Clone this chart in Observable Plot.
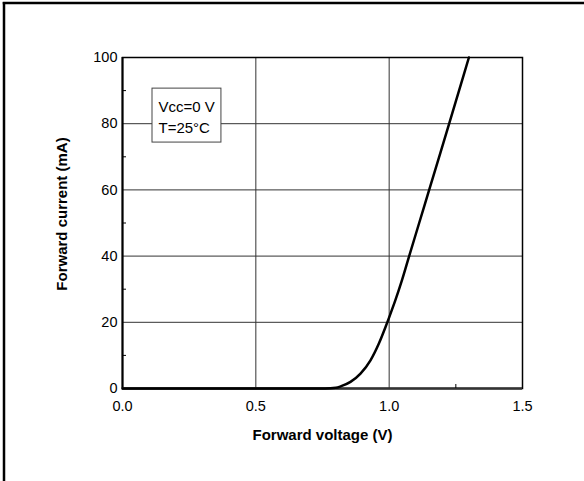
<!DOCTYPE html>
<html>
<head>
<meta charset="utf-8">
<script src="https://cdn.jsdelivr.net/npm/d3@7"></script>
<script src="https://cdn.jsdelivr.net/npm/@observablehq/plot@0.6"></script>
<style>
  html, body { margin: 0; padding: 0; background: #fff; }
  #chart { position: relative; width: 584px; height: 481px; }
</style>
</head>
<body>
<div id="chart"></div>
<script>
// Forward voltage (V) vs forward current (mA)
const voltage = [0, 0.5, 0.76, 0.8, 0.82, 0.855, 0.8925, 0.93, 0.961, 0.986, 1.0, 1.023, 1.046, 1.075, 1.1125, 1.15, 1.1875, 1.225, 1.262, 1.299];
const current = [0, 0, 0, 0.2, 0.7, 2, 4.5, 8.5, 13.5, 18.5, 21.5, 26.6, 32.2, 40, 50, 60, 70, 80, 90, 100];

const xTicks = [0, 0.5, 1.0, 1.5];
const yTicks = [0, 20, 40, 60, 80, 100];
const xGrid = [0.5, 1.0];
const yGrid = [20, 40, 60, 80];
const xMinor = [1.25];
const yMinor = [10, 30, 50, 70, 90];

const xTitle = "Forward voltage (V)";
const yTitle = "Forward current (mA)";
const noteLines = ["Vcc=0 V", "T=25°C"];
// annotation box extent (data units)
const noteBox = [{x1: 0.1125, x2: 0.371, y1: 74.3, y2: 90.6}];
const noteAnchor = [{x: 0.135, y: 82.5}];

const data = voltage.map((v, i) => ({v, i: current[i]}));

const plot = Plot.plot({
  width: 584,
  height: 481,
  marginLeft: 122,
  marginRight: 62,
  marginTop: 57,
  marginBottom: 93,
  style: {fontFamily: "Liberation Sans, Arial, sans-serif", fontSize: "14.5px", background: "#fff", color: "#000"},
  x: {domain: [0, 1.5]},
  y: {domain: [0, 100]},
  marks: [
    Plot.ruleX(xGrid, {stroke: "#333", strokeWidth: 1}),
    Plot.ruleY(yGrid, {stroke: "#333", strokeWidth: 1}),
    Plot.frame({stroke: "#000", strokeWidth: 1.5}),
    Plot.ruleX([0], {stroke: "#000", strokeWidth: 2}),
    Plot.ruleY([0], {stroke: "#333", strokeWidth: 2.5}),
    Plot.axisX(xTicks, {tickSize: 0, tickPadding: 12, fontSize: 14.5, tickFormat: d3.format(".1f"), label: null}),
    Plot.axisY(yTicks, {tickSize: 0, tickPadding: 5, fontSize: 14.5, label: null}),
    Plot.axisY(yMinor, {tickSize: -4, text: null, label: null, stroke: "#000"}),
    Plot.axisX(xMinor, {tickSize: -4, text: null, label: null, stroke: "#000"}),
    Plot.rect(noteBox, {x1: "x1", x2: "x2", y1: "y1", y2: "y2", fill: "#fff", stroke: "#444", strokeWidth: 1}),
    Plot.text(noteAnchor, {x: "x", y: "y", text: () => noteLines.join("\n"), lineHeight: 1.43, textAnchor: "start", lineAnchor: "middle", fontSize: 15, fill: "#000"}),
    Plot.line(data, {x: "v", y: "i", curve: "monotone-x", stroke: "#000", strokeWidth: 2.5}),
    Plot.text([xTitle], {frameAnchor: "bottom", lineAnchor: "middle", dy: 47, fontSize: 15, fontWeight: "bold", fill: "#000"}),
    Plot.text([yTitle], {frameAnchor: "left", rotate: -90, textAnchor: "middle", lineAnchor: "middle", dx: -60, dy: -9, fontSize: 15, fontWeight: "bold", fill: "#000"})
  ]
});

document.getElementById("chart").appendChild(plot);

// outer page border (left and top)
const svg = d3.select(plot);
svg.append("line").attr("x1", 4).attr("x2", 4).attr("y1", 2).attr("y2", 481).attr("stroke", "#000").attr("stroke-width", 2.5);
svg.append("line").attr("x1", 2.75).attr("x2", 584).attr("y1", 3).attr("y2", 3).attr("stroke", "#000").attr("stroke-width", 2.5);
</script>
</body>
</html>
